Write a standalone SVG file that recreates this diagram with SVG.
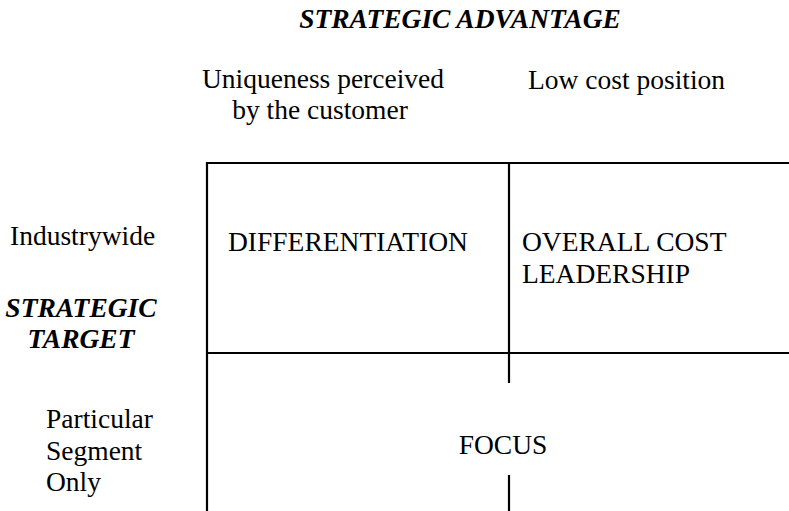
<svg xmlns="http://www.w3.org/2000/svg" width="789" height="511" viewBox="0 0 789 511">
  <style>
    text { font-family: "Liberation Serif", "Times New Roman", serif; font-size: 27.5px; fill: #000; }
    .head { font-weight: bold; font-style: italic; }
    .mid { text-anchor: middle; }
    .grid line { stroke: #000; stroke-width: 2.2; fill: none; }
  </style>
  <rect width="789" height="511" fill="#fff"/>

  <!-- axis headings -->
  <g id="advantage-axis">
    <text class="head mid" x="460" y="28">STRATEGIC ADVANTAGE</text>
    <text class="mid" x="323" y="88">Uniqueness perceived</text>
    <text class="mid" x="320" y="119">by the customer</text>
    <text x="528" y="89">Low cost position</text>
  </g>

  <g id="target-axis">
    <text x="10" y="245">Industrywide</text>
    <text class="head mid" x="81" y="317">STRATEGIC</text>
    <text class="head mid" x="81" y="348">TARGET</text>
    <text x="46" y="428">Particular</text>
    <text x="46" y="460">Segment</text>
    <text x="46" y="491">Only</text>
  </g>

  <!-- matrix lines -->
  <g id="grid" class="grid">
    <line x1="207" y1="163" x2="789" y2="163"/>
    <line x1="207" y1="162" x2="207" y2="511"/>
    <line x1="207" y1="353" x2="789" y2="353"/>
    <line x1="509" y1="163" x2="509" y2="383"/>
    <line x1="509" y1="475" x2="509" y2="511"/>
  </g>

  <g id="differentiation">
    <text x="228" y="251">DIFFERENTIATION</text>
  </g>
  <g id="cost-leadership">
    <text x="522" y="251">OVERALL COST</text>
    <text x="522" y="283">LEADERSHIP</text>
  </g>
  <g id="focus">
    <text class="mid" x="503" y="454">FOCUS</text>
  </g>
</svg>
